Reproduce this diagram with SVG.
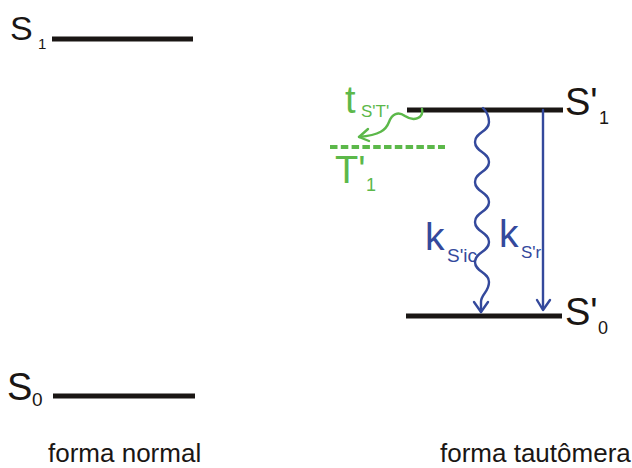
<svg xmlns="http://www.w3.org/2000/svg" width="632" height="468" viewBox="0 0 632 468">
  <style>
    .lvl { stroke: #1a1614; stroke-width: 5; }
    .lbl { font-family: "Liberation Sans", Arial, sans-serif; fill: #1a1614; }
    .blue { stroke: #34499c; stroke-width: 2.4; fill: none; stroke-linecap: round; stroke-linejoin: round; }
    .green { stroke: #5cb84a; stroke-width: 2.4; fill: none; stroke-linecap: round; stroke-linejoin: round; }
    .bt { font-family: "Liberation Sans", Arial, sans-serif; fill: #34499c; }
    .gt { font-family: "Liberation Sans", Arial, sans-serif; fill: #5cb84a; }
  </style>

  <rect width="632" height="468" fill="#ffffff"/>

  <!-- normal form levels -->
  <g id="S1">
    <line class="lvl" x1="52" y1="39" x2="193" y2="39"/>
    <text class="lbl" x="10" y="40" font-size="34">S</text>
    <text class="lbl" x="38" y="49" font-size="15">1</text>
  </g>
  <g id="S0">
    <line class="lvl" x1="53" y1="396" x2="195" y2="396"/>
    <text class="lbl" x="7" y="400" font-size="38">S</text>
    <text class="lbl" x="32" y="406" font-size="19">0</text>
  </g>

  <!-- tautomer levels -->
  <g id="S1p">
    <line class="lvl" x1="407" y1="110" x2="563" y2="110"/>
    <text class="lbl" x="565" y="115" font-size="38">S'</text>
    <text class="lbl" x="599" y="124" font-size="18">1</text>
  </g>
  <g id="S0p">
    <line class="lvl" x1="406" y1="316" x2="562" y2="316"/>
    <text class="lbl" x="565" y="325" font-size="38">S'</text>
    <text class="lbl" x="598" y="334" font-size="18">0</text>
  </g>
  <g id="T1p">
    <line x1="330" y1="147" x2="445" y2="147" stroke="#5cb84a" stroke-width="4" stroke-dasharray="7.5 3.3"/>
    <text class="gt" x="335" y="183" font-size="38">T'</text>
    <text class="gt" x="366" y="191" font-size="18">1</text>
  </g>

  <!-- transitions -->
  <g id="connectors">
    <!-- internal conversion (wavy) -->
    <path class="blue" d="M483,108 C487,112 489,117 489,122
      C489,132 475,132 475,142 C475,152 489,152 489,162
      C489,172 475,172 475,182 C475,192 489,192 489,202
      C489,212 475,212 475,222 C475,232 489,232 489,242
      C489,252 475,252 475,262 C475,272 489,272 489,282
      C489,292 481,294 481,302 L481,312"/>
    <path class="blue" d="M474,302 L481,312 L488,302"/>
    <!-- radiative decay -->
    <line class="blue" x1="543" y1="110" x2="543" y2="309"/>
    <path class="blue" d="M537,300 L543,310 L550,300"/>
    <!-- intersystem crossing (wavy) -->
    <path class="green" d="M422,109 C424,118 414,122 405,116 C398,111 392,114 389,122 C386,130 380,135 359,137"/>
    <path class="green" d="M368,129 L359,137 L369,141"/>
  </g>

  <!-- rate labels -->
  <g id="rate-labels">
    <text class="bt" x="425" y="250" font-size="39">k</text>
    <text class="bt" x="447" y="262" font-size="19">S'ic</text>
    <text class="bt" x="499" y="247" font-size="39">k</text>
    <text class="bt" x="521" y="258" font-size="17">S'r</text>
    <text class="gt" x="345" y="113" font-size="38">t</text>
    <text class="gt" x="361" y="117" font-size="17">S'T'</text>
  </g>

  <!-- captions -->
  <g id="captions">
    <text class="lbl" x="48" y="462" font-size="26">forma normal</text>
    <text class="lbl" x="440" y="462" font-size="26">forma tautômera</text>
  </g>
</svg>
